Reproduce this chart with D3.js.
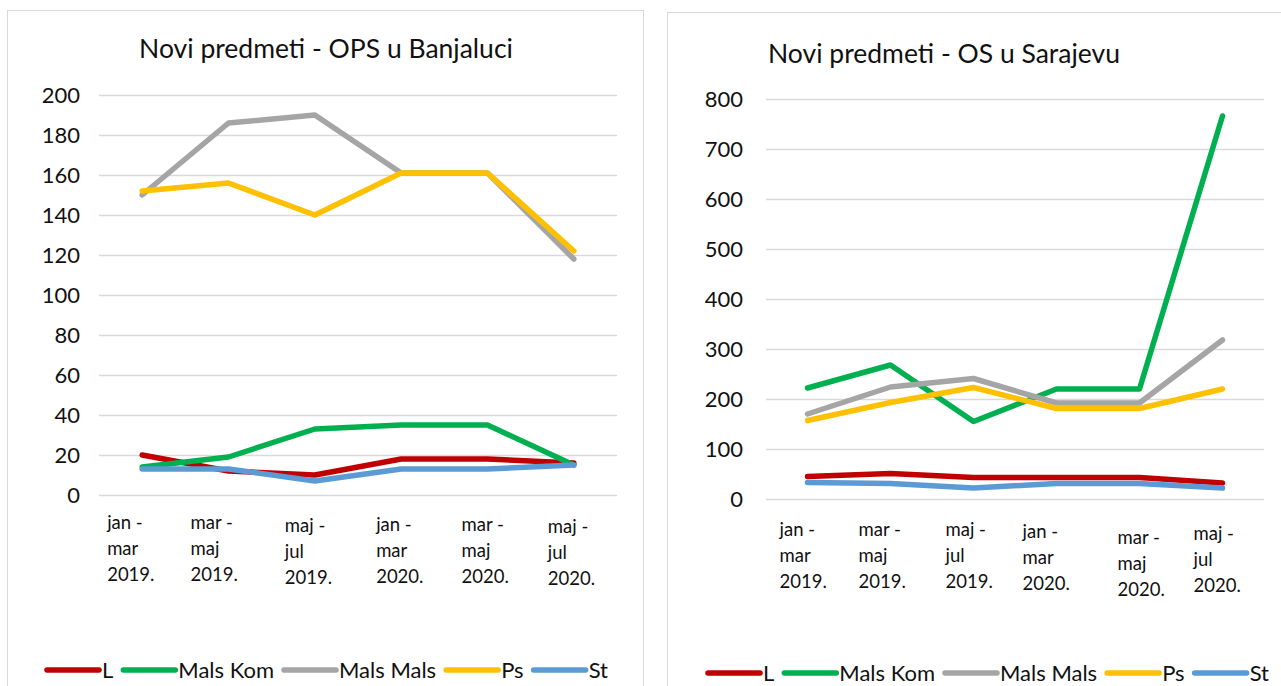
<!DOCTYPE html>
<html>
<head>
<meta charset="utf-8">
<script src="https://cdn.jsdelivr.net/npm/d3@7"></script>
<style>
  body { margin: 0; background: #fff; }
  svg { display: block; font-family: Lato, "Open Sans", sans-serif; }
</style>
</head>
<body>
<div id="chart"></div>
<script>
// categories (quarters), one label per point, wrapped like in the original
const categories = ["jan - mar 2019.", "mar - maj 2019.", "maj - jul 2019.", "jan - mar 2020.", "mar - maj 2020.", "maj - jul 2020."];
const seriesNames = ["L", "Mals Kom", "Mals Mals", "Ps", "St"];

// Novi predmeti - OPS u Banjaluci
const banjalukaL = [20, 12, 10, 18, 18, 16];
const banjalukaMalsKom = [14, 19, 33, 35, 35, 15];
const banjalukaMalsMals = [150, 186, 190, 161, 161, 118];
const banjalukaPs = [152, 156, 140, 161, 161, 122];
const banjalukaSt = [13, 13, 7, 13, 13, 15];
const banjalukaTicks = [0, 20, 40, 60, 80, 100, 120, 140, 160, 180, 200];

// Novi predmeti - OS u Sarajevu
const sarajevoL = [45, 51, 43, 43, 43, 32];
const sarajevoMalsKom = [222, 268, 155, 220, 220, 766];
const sarajevoMalsMals = [170, 224, 241, 192, 192, 318];
const sarajevoPs = [157, 193, 223, 181, 181, 220];
const sarajevoSt = [33, 31, 22, 31, 31, 22];
const sarajevoTicks = [0, 100, 200, 300, 400, 500, 600, 700, 800];

const colors = ["#C00000", "#00B050", "#A5A5A5", "#FFC000", "#5B9BD5"];

const width = 1281, height = 686;
const svg = d3.select("#chart").append("svg")
    .attr("width", width)
    .attr("height", height);

function splitLabel(s) {
    // "jan - mar 2019." -> ["jan -", "mar", "2019."]
    const parts = s.split(" ");
    return [parts[0] + " " + parts[1], parts[2], parts[3]];
}

function drawPanel(cfg) {
    const g = svg.append("g");

    // chart frame
    g.append("rect")
        .attr("x", cfg.frame[0] + 0.5).attr("y", cfg.frame[1] + 0.5)
        .attr("width", cfg.frame[2]).attr("height", cfg.frame[3])
        .attr("fill", "#fff").attr("stroke", "#D9D9D9");

    g.append("text")
        .attr("x", cfg.titleX).attr("y", cfg.titleY)
        .attr("text-anchor", cfg.titleAnchor)
        .style("font-size", "26.5px")
        .attr("fill", "#111")
        .text(cfg.title);

    var x = d3.scaleBand().domain(d3.range(categories.length)).range([cfg.left, cfg.right]);
    var y = d3.scaleLinear().domain([0, d3.max(cfg.ticks)]).range([cfg.bottom, cfg.top]);

    // gridlines + y labels
    const yAxis = g.append("g")
        .attr("transform", `translate(${cfg.left},0)`)
        .call(d3.axisLeft(y).tickValues(cfg.ticks).tickSize(-(cfg.right - cfg.left)).tickPadding(cfg.tickPad));
    yAxis.select(".domain").remove();
    yAxis.selectAll("line").attr("stroke", "#D9D9D9").attr("stroke-width", 1.5);
    yAxis.selectAll("text")
        .attr("fill", "#111")
        .style("font-size", "22px")
        .style("font-family", "Lato, sans-serif");

    // category labels, three lines each
    const xl = g.append("g").selectAll("text")
        .data(categories)
        .join("text")
        .attr("x", (d, i) => x(i) + x.bandwidth() / 2 + cfg.labelDx[i])
        .attr("y", (d, i) => cfg.labelY + cfg.labelDy[i])
        .style("font-size", "18.5px")
        .attr("fill", "#111");
    xl.selectAll("tspan")
        .data(d => splitLabel(d))
        .join("tspan")
        .attr("x", function () { return this.parentNode.getAttribute("x"); })
        .attr("dy", (d, i) => i === 0 ? 0 : 26)
        .text(d => d);

    // lines
    var valueLine = d3.line()
        .x((d, i) => x(i) + x.bandwidth() / 2)
        .y(d => y(d));
    cfg.series.forEach((vals, k) => {
        g.append("path")
            .datum(vals)
            .attr("fill", "none")
            .attr("stroke", colors[k])
            .attr("stroke-width", 5.5)
            .attr("stroke-linejoin", "round")
            .attr("stroke-linecap", "round")
            .attr("d", valueLine);
    });

    // legend
    let lx = cfg.legendX;
    seriesNames.forEach((name, k) => {
        g.append("line")
            .attr("x1", lx + 2).attr("x2", lx + 54)
            .attr("y1", cfg.legendY).attr("y2", cfg.legendY)
            .attr("stroke", colors[k])
            .attr("stroke-width", 5.5)
            .attr("stroke-linecap", "round");
        const t = g.append("text")
            .attr("x", lx + 57).attr("y", cfg.legendY + 8)
            .style("font-size", "22px")
            .attr("fill", "#111")
            .text(name);
        lx += 57 + t.node().getComputedTextLength() + 8;
    });
}

drawPanel({
    frame: [7, 10, 636, 700],
    title: "Novi predmeti - OPS u Banjaluci", titleX: 326, titleY: 58, titleAnchor: "middle",
    left: 99, right: 617, top: 95, bottom: 495,
    ticks: banjalukaTicks, tickPad: 19,
    labelY: 529, labelDx: [-35, -38, -30, -25, -26, -26], labelDy: [0, 0, 3, 2, 2, 4],
    series: [banjalukaL, banjalukaMalsKom, banjalukaMalsMals, banjalukaPs, banjalukaSt],
    legendX: 45, legendY: 670
});

drawPanel({
    frame: [667, 12, 640, 700],
    title: "Novi predmeti - OS u Sarajevu", titleX: 768, titleY: 63, titleAnchor: "start",
    left: 766, right: 1264, top: 99, bottom: 499,
    ticks: sarajevoTicks, tickPad: 23,
    labelY: 536, labelDx: [-28, -32, -28, -34, -22, -29], labelDy: [0, 0, 0, 2, 8, 4],
    series: [sarajevoL, sarajevoMalsKom, sarajevoMalsMals, sarajevoPs, sarajevoSt],
    legendX: 706, legendY: 673
});
</script>
</body>
</html>
